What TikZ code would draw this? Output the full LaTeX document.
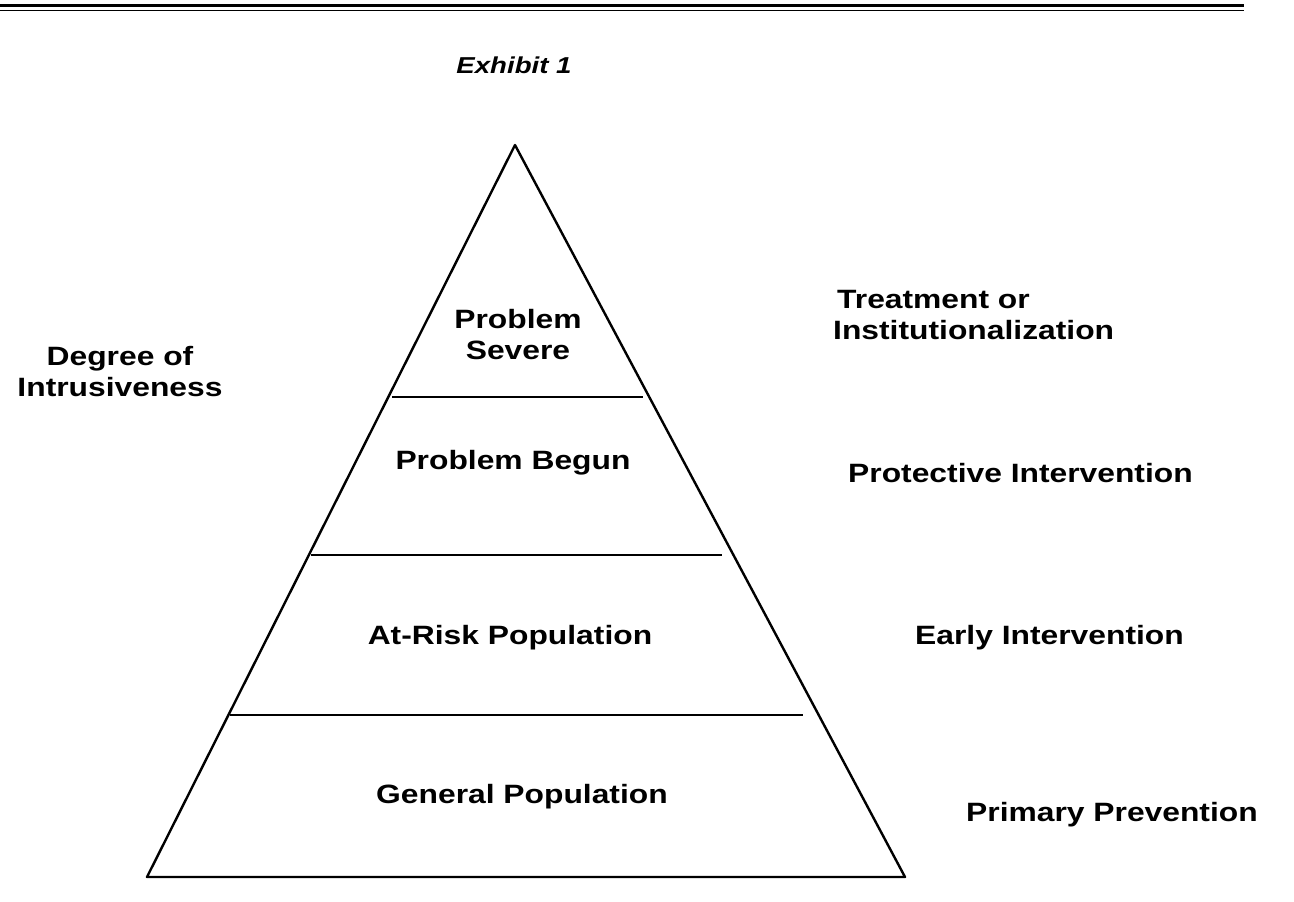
\documentclass[tikz,border=0pt]{standalone}
\usepackage{fontspec}
\newfontfamily\hv{Liberation Sans}[FakeStretch=1.2]
\tikzset{
  lbl/.style={font=\hv\bfseries\fontsize{26.5}{31}\selectfont, inner sep=0pt, align=center},
  lbll/.style={lbl, anchor=west, align=left},
  ttl/.style={font=\hv\bfseries\itshape\fontsize{23}{27}\selectfont, inner sep=0pt},
  edge/.style={line width=2.4pt, line join=round}
}
\begin{document}
\begin{tikzpicture}[x=1pt,y=-1pt]
\useasboundingbox (0,0) rectangle (1294,902);
% top rules
\coordinate (r1a) at (0,5);
\coordinate (r1b) at (1244,5);
\coordinate (r2a) at (0,10.5);
\coordinate (r2b) at (1244,10.5);
\draw[line width=3pt] (r1a) -- (r1b);
\draw[line width=1.6pt] (r2a) -- (r2b);
% title
\node[ttl] (title) at (514,65) {Exhibit 1};
% pyramid
\coordinate (apex) at (515,145);
\coordinate (bl) at (147,877);
\coordinate (br) at (905,877);
\draw[edge] (apex) -- (bl) -- (br) -- cycle;
\coordinate (d1l) at (392,397);
\coordinate (d1r) at (643,397);
\coordinate (d2l) at (311,555);
\coordinate (d2r) at (722,555);
\coordinate (d3l) at (230,715);
\coordinate (d3r) at (803,715);
\draw[edge] (d1l) -- (d1r);
\draw[edge] (d2l) -- (d2r);
\draw[edge] (d3l) -- (d3r);
% tier labels
\node[lbl] (severe) at (518,335) {Problem\\Severe};
\node[lbl] (begun) at (513,463) {Problem Begun};
\node[lbl] (risk) at (510,638) {At-Risk Population};
\node[lbl] (general) at (522,797) {General Population};
% left label
\node[lbl] (degree) at (120,372) {Degree of\\Intrusiveness};
% right labels
\node[lbll] (treat) at (833,315) {\hspace*{4pt}Treatment or\\Institutionalization};
\node[lbll] (protect) at (848,473) {Protective Intervention};
\node[lbll] (early) at (915,638) {Early Intervention};
\node[lbll] (primary) at (966,815) {Primary Prevention};
\end{tikzpicture}
\end{document}
